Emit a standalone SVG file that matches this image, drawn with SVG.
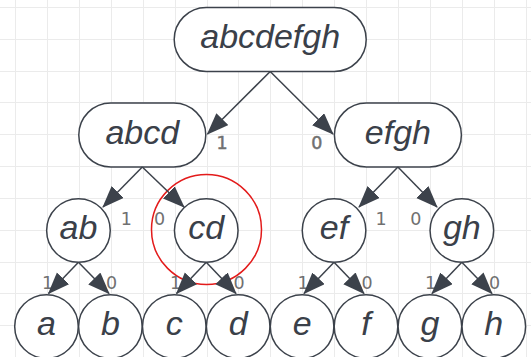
<svg xmlns="http://www.w3.org/2000/svg" width="531" height="357" viewBox="0 0 531 357">
<style>
.grid{stroke:#ebebeb;stroke-width:1;fill:none}
.node{fill:#ffffff;stroke:#3c424b;stroke-width:1.5}
.lbl{font-family:"Liberation Sans",Arial,sans-serif;font-style:italic;font-size:34px;fill:#3a4049;text-anchor:middle}
.edge{stroke:#3c424b;stroke-width:1.5;fill:none;marker-end:url(#arr)}
.el{font-family:"DejaVu Sans",sans-serif;font-size:17.5px;fill:#707070;text-anchor:middle}
.elb{stroke:#707070;stroke-width:0.5}
</style>
<defs>
<marker id="arr" markerUnits="userSpaceOnUse" markerWidth="24" markerHeight="18" refX="21" refY="8.5" orient="auto">
<path d="M0,0 L22,8.5 L0,17 Z" fill="#3c424b"/>
</marker>
</defs>
<rect x="0" y="0" width="531" height="357" fill="#ffffff"/>
<path class="grid" d="M15.5,0V357M47.5,0V357M79.5,0V357M111.5,0V357M143.5,0V357M175.5,0V357M207.5,0V357M238.5,0V357M270.5,0V357M302.5,0V357M334.5,0V357M366.5,0V357M398.5,0V357M430.5,0V357M462.5,0V357M494.5,0V357M526.5,0V357M0,7.5H531M0,39.5H531M0,71.5H531M0,102.5H531M0,134.5H531M0,166.5H531M0,198.5H531M0,230.5H531M0,262.5H531M0,293.5H531M0,325.5H531"/>
<circle id="highlight" cx="206.5" cy="229.5" r="55" fill="none" stroke="#e31b1b" stroke-width="1.5"/>
<g id="edge-labels">
<text class="el elb" x="222" y="148.5">1</text>
<text class="el elb" x="316.7" y="148.5">0</text>
<text class="el" x="126.2" y="224.6">1</text>
<text class="el" x="159.5" y="224.6">0</text>
<text class="el" x="381" y="224.6">1</text>
<text class="el" x="415.9" y="224.6">0</text>
<text class="el" x="47.5" y="289.2">1</text>
<text class="el" x="111.5" y="289.2">0</text>
<text class="el" x="175.5" y="289.2">1</text>
<text class="el" x="239" y="289.2">0</text>
<text class="el" x="303" y="289.2">1</text>
<text class="el" x="367" y="289.2">0</text>
<text class="el" x="430.5" y="289.2">1</text>
<text class="el" x="494.5" y="289.2">0</text>
</g>
<g id="n-abcdefgh"><rect class="node" x="174.2" y="7.5" width="192" height="64" rx="32"/><text class="lbl" x="270.2" y="48">abcdefgh</text></g>
<g id="n-abcd"><rect class="node" x="78.8" y="103" width="127" height="64" rx="32"/><text class="lbl" x="142.3" y="143.5">abcd</text></g>
<g id="n-efgh"><rect class="node" x="334.4" y="103" width="127" height="64" rx="32"/><text class="lbl" x="397.9" y="143.5">efgh</text></g>
<g id="n-ab"><circle class="node" cx="78.45" cy="230.5" r="31.8"/><text class="lbl" x="78.45" y="238.5">ab</text></g>
<g id="n-cd"><circle class="node" cx="206.25" cy="230.5" r="31.8"/><text class="lbl" x="206.25" y="238.5">cd</text></g>
<g id="n-ef"><circle class="node" cx="334.05" cy="230.5" r="31.8"/><text class="lbl" x="334.05" y="238.5">ef</text></g>
<g id="n-gh"><circle class="node" cx="461.85" cy="230.5" r="31.8"/><text class="lbl" x="461.85" y="238.5">gh</text></g>
<g id="n-a"><circle class="node" cx="46.5" cy="326.5" r="31.8"/><text class="lbl" x="46.5" y="334.5">a</text></g>
<g id="n-b"><circle class="node" cx="110.4" cy="326.5" r="31.8"/><text class="lbl" x="110.4" y="334.5">b</text></g>
<g id="n-c"><circle class="node" cx="174.3" cy="326.5" r="31.8"/><text class="lbl" x="174.3" y="334.5">c</text></g>
<g id="n-d"><circle class="node" cx="238.2" cy="326.5" r="31.8"/><text class="lbl" x="238.2" y="334.5">d</text></g>
<g id="n-e"><circle class="node" cx="302.1" cy="326.5" r="31.8"/><text class="lbl" x="302.1" y="334.5">e</text></g>
<g id="n-f"><circle class="node" cx="366" cy="326.5" r="31.8"/><text class="lbl" x="366" y="334.5">f</text></g>
<g id="n-g"><circle class="node" cx="429.9" cy="326.5" r="31.8"/><text class="lbl" x="429.9" y="334.5">g</text></g>
<g id="n-h"><circle class="node" cx="493.8" cy="326.5" r="31.8"/><text class="lbl" x="493.8" y="334.5">h</text></g>
<g id="connectors">
<path class="edge" d="M270.2,71.5 L207.5,134"/>
<path class="edge" d="M270.2,71.5 L333,134"/>
<path class="edge" d="M142.3,167 L103,207"/>
<path class="edge" d="M142.3,167 L184,207"/>
<path class="edge" d="M397.9,167 L359,207"/>
<path class="edge" d="M397.9,167 L437,207"/>
<path class="edge" d="M78.45,262.3 L48.5,293.5"/>
<path class="edge" d="M78.45,262.3 L109,293.5"/>
<path class="edge" d="M206.25,262.3 L176.5,293.5"/>
<path class="edge" d="M206.25,262.3 L236,293.5"/>
<path class="edge" d="M334.05,262.3 L304,293.5"/>
<path class="edge" d="M334.05,262.3 L364,293.5"/>
<path class="edge" d="M461.85,262.3 L432,293.5"/>
<path class="edge" d="M461.85,262.3 L492,293.5"/>
</g>
</svg>
